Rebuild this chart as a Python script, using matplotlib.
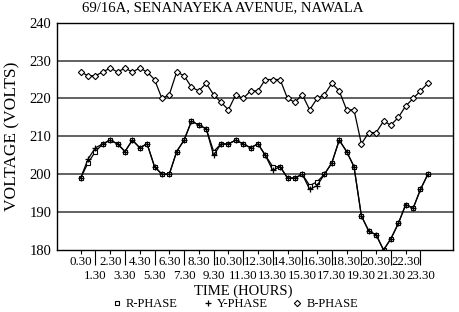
import numpy as np
import matplotlib
matplotlib.use("Agg")
import matplotlib.pyplot as plt

plt.rcParams['font.family'] = ['Liberation Serif', 'DejaVu Serif']

# half-hourly readings, 0.30 .. 24.00
r_phase = [199, 203, 206, 208, 209, 208, 206, 209, 207, 208, 202, 200, 200, 206, 209, 214,
           213, 212, 206, 208, 208, 209, 208, 207, 208, 205, 202, 202, 199, 199, 200, 197,
           198, 200, 203, 209, 206, 202, 189, 185, 184, 180, 183, 187, 192, 191, 196, 200]
y_phase = [199, 204, 207, 208, 209, 208, 206, 209, 207, 208, 202, 200, 200, 206, 209, 214,
           213, 212, 205, 208, 208, 209, 208, 207, 208, 205, 201, 202, 199, 199, 200, 196,
           197, 200, 203, 209, 206, 202, 189, 185, 184, 180, 183, 187, 192, 191, 196, 200]
b_phase = [227, 226, 226, 227, 228, 227, 228, 227, 228, 227, 225, 220, 221, 227, 226, 223,
           222, 224, 221, 219, 217, 221, 220, 222, 222, 225, 225, 225, 220, 219, 221, 217,
           220, 221, 224, 222, 217, 217, 208, 211, 211, 214, 213, 215, 218, 220, 222, 224]
upper_labels = ['0.30', '2.30', '4.30', '6.30', '8.30', '10.30', '12.30', '14.30',
                '16.30', '18.30', '20.30', '22.30']
lower_labels = ['1.30', '3.30', '5.30', '7.30', '9.30', '11.30', '13.30', '15.30',
                '17.30', '19.30', '21.30', '23.30']

x = np.arange(len(r_phase))

fig = plt.figure(figsize=(4.6, 3.12), dpi=100)
ax = fig.add_axes([57/460, 1-250/312, 396/460, 227.3/312])

ax.plot(x, r_phase, color='black', lw=0.9, marker='s', ms=3.5, mfc='white', mec='black', mew=0.8, label='R-PHASE')
ax.plot(x, y_phase, color='black', lw=0.9, marker='+', ms=4, mew=0.9, label='Y-PHASE')
ax.plot(x, b_phase, color='black', lw=0.9, marker='D', ms=3.2, mfc='white', mec='black', mew=0.8, label='B-PHASE')

ax.set_ylim(180, 240)
ax.set_xlim(-3.2, 50.4)
ax.set_yticks([180, 190, 200, 210, 220, 230, 240])
for v in [190, 200, 210, 220, 230]:
    ax.axhline(v, color='#555555', lw=1.3, zorder=0)
ax.tick_params(axis='y', length=0, pad=4, labelsize=10.5)

ax.set_xticks(np.arange(2, 48, 4))
ax.set_xticklabels(lower_labels)
ax.set_xticks(np.arange(0, 48, 4), minor=True)
ax.set_xticklabels(upper_labels, minor=True)
ax.tick_params(axis='x', which='major', length=11, width=0.8, pad=3.5, labelsize=9.3)
ax.tick_params(axis='x', which='minor', length=3, width=0.8, pad=1.5, labelsize=9.3)

for s in ax.spines.values():
    s.set_linewidth(1.0)

fig.text(223/460, 1-8/312, '69/16A, SENANAYEKA AVENUE, NAWALA', ha='center', va='center', fontsize=10.6)
fig.text(12/460, 1-136/312, 'VOLTAGE (VOLTS)', rotation=90, ha='center', va='center', fontsize=12.5)
fig.text(243/460, 1-291/312, 'TIME (HOURS)', ha='center', va='center', fontsize=10.5)

fig.legend(loc='center', bbox_to_anchor=(235/460, 1-304/312), ncol=3, frameon=False,
           fontsize=9, handlelength=0.8, handletextpad=0.3, columnspacing=2.0,
           borderpad=0, borderaxespad=0)
leg = fig.legends[0]
for h in leg.legend_handles:
    h.set_linestyle('none')

fig.savefig('out.png', dpi=100)
